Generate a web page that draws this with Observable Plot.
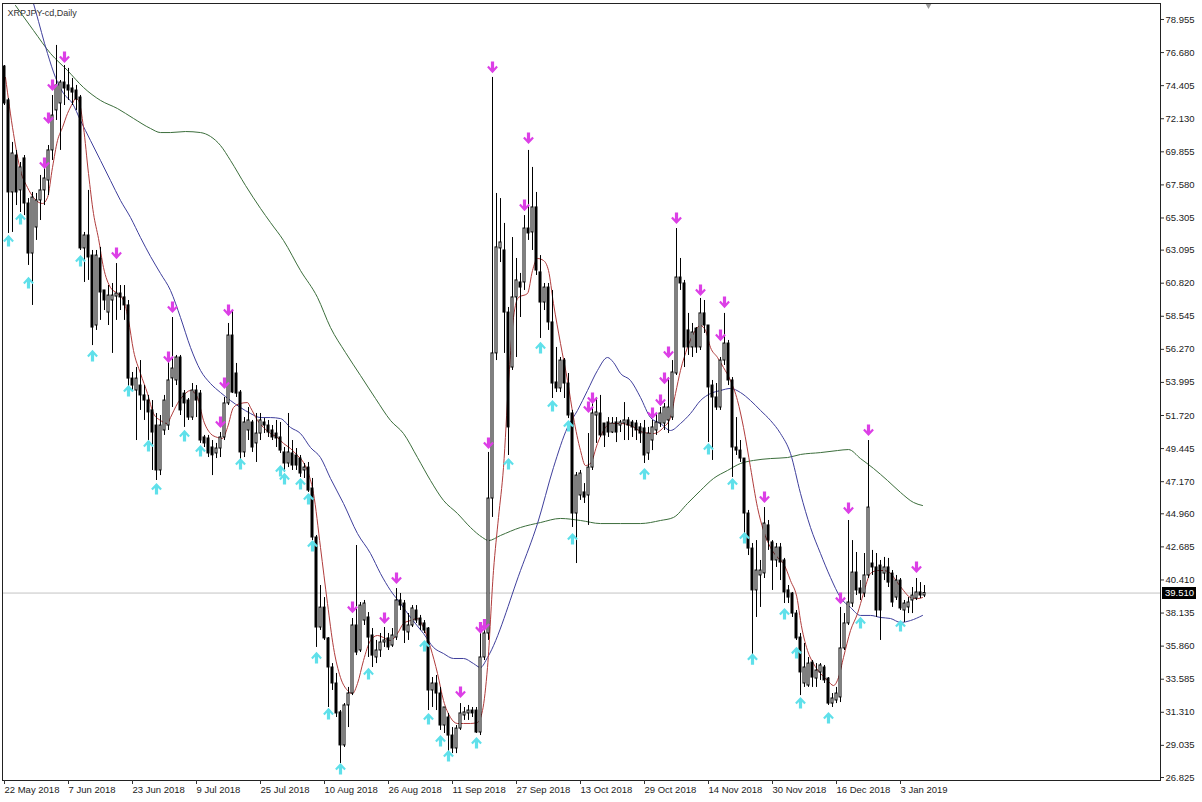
<!DOCTYPE html>
<html><head><meta charset="utf-8">
<script src="https://cdn.jsdelivr.net/npm/d3@7"></script>
<script src="https://cdn.jsdelivr.net/npm/@observablehq/plot@0.6"></script>
<style>
html,body{margin:0;padding:0;background:#fff;}
#chart{width:1202px;height:802px;overflow:hidden;}
</style></head><body><div id="chart"></div>
<script>
const title = "XRPJPY-cd,Daily";
const bid = 39.51;

const openP = [
75.72,73.39,67.06,69.60,67.20,69.40,66.30,62.86,64.65,66.51,
67.20,67.88,69.95,72.70,73.18,74.62,74.42,74.21,74.07,73.59,
63.21,64.10,62.72,57.91,62.52,60.32,58.80,59.63,59.90,60.11,
59.84,59.29,54.26,53.44,53.78,53.10,52.75,52.07,51.03,47.94,
50.69,51.03,54.27,54.13,55.71,53.23,52.75,51.58,53.44,53.23,
50.21,50.14,49.52,49.11,49.45,50.21,52.55,57.22,54.61,53.30,
49.18,50.69,51.24,49.80,50.48,51.24,51.03,50.69,50.48,50.21,
49.18,48.42,49.11,48.97,48.76,47.94,48.14,46.70,43.33,37.14,
38.51,36.39,34.39,33.29,31.30,29.03,31.78,32.60,37.28,35.56,
37.62,37.83,36.59,35.08,35.56,36.11,36.39,35.90,36.45,39.00,
38.79,36.80,37.28,38.31,37.76,37.42,37.07,32.81,33.29,32.60,
30.40,30.95,29.71,28.82,30.19,31.09,31.23,31.43,31.43,29.92,
35.08,36.73,46.01,55.99,63.21,63.07,58.80,55.02,59.84,60.87,
60.87,64.58,64.31,66.03,61.56,59.49,60.52,58.12,53.99,53.58,
55.50,53.92,51.86,44.98,46.22,46.43,46.22,48.14,51.72,51.86,
51.17,51.24,50.55,51.24,51.03,51.17,51.38,51.24,51.17,50.90,
50.83,49.11,50.00,50.69,51.17,51.17,51.38,51.58,54.61,61.21,
60.80,57.57,56.40,57.70,56.40,58.74,57.91,53.78,52.96,52.27,
55.50,56.67,54.13,49.52,49.31,48.76,44.98,42.57,39.69,40.72,
40.86,44.16,42.99,41.75,42.64,41.75,39.69,39.48,38.10,36.45,
33.29,33.15,34.73,33.63,34.05,34.39,33.63,31.91,32.12,32.33,
35.70,37.42,38.79,40.92,39.82,39.48,40.72,41.54,41.27,41.40,
40.85,41.27,40.85,39.20,40.37,38.31,38.52,39.00,39.13,39.55,
39.34];

const highP = [
75.79,73.52,70.50,69.95,69.12,69.60,66.64,67.06,66.99,68.23,
68.92,70.29,73.73,77.17,74.76,75.79,75.59,74.90,74.42,73.73,
64.31,67.20,63.07,63.07,63.28,60.32,60.66,60.80,62.17,60.66,
60.66,59.63,54.68,55.02,55.50,53.78,53.10,52.75,51.86,51.72,
53.10,55.50,58.46,55.85,55.85,53.44,52.89,53.92,53.78,53.44,
50.35,50.35,50.00,49.80,50.55,52.96,58.05,58.94,55.30,53.44,
51.58,52.27,51.38,51.86,51.86,51.51,51.38,51.03,51.38,51.24,
49.52,51.86,50.00,49.45,48.97,48.42,48.49,47.39,43.47,40.03,
39.20,36.45,34.66,33.98,31.43,31.91,33.02,37.76,42.78,38.86,
39.00,38.17,37.07,36.25,36.73,37.14,36.73,37.07,39.82,39.48,
39.00,38.10,38.65,38.65,37.97,37.62,37.14,33.70,33.84,33.02,
31.64,31.23,30.26,30.40,31.91,31.64,31.78,31.64,31.64,37.14,
37.42,49.18,74.97,66.99,66.64,64.93,59.15,63.96,62.52,61.49,
65.47,69.95,68.78,67.06,62.72,60.80,60.80,60.32,56.40,55.71,
55.64,54.61,52.07,47.80,47.94,47.04,50.48,53.23,52.96,53.10,
51.17,51.58,51.58,51.58,51.38,52.61,51.58,51.38,51.38,51.17,
51.38,50.90,51.38,51.86,52.27,52.55,54.33,55.50,64.58,62.52,
61.01,58.74,58.05,57.77,59.77,59.63,57.91,54.13,53.92,55.71,
58.74,56.88,54.33,51.58,50.00,48.76,45.19,42.92,43.12,41.75,
45.39,44.50,43.12,42.92,42.92,41.89,40.03,39.55,38.31,36.73,
36.04,35.08,34.87,34.66,34.66,34.53,33.70,32.60,33.02,38.52,
38.10,44.50,43.12,42.30,40.37,42.23,50.00,42.44,42.23,41.75,
41.96,41.89,41.06,40.72,40.51,39.00,39.20,39.89,40.51,40.23,
40.03];

const lowP = [
73.04,64.24,64.31,66.16,65.68,65.47,62.04,59.29,63.76,65.13,
66.16,66.85,69.26,72.01,69.95,73.04,73.39,73.04,72.70,63.07,
60.87,61.01,56.53,57.57,58.26,58.94,57.91,55.99,58.26,58.94,
58.26,53.10,53.44,50.00,52.07,51.38,50.00,47.94,47.25,47.59,
50.35,50.69,52.27,53.78,51.72,50.90,51.38,51.38,51.58,49.80,
49.52,48.83,47.59,48.76,48.83,50.00,52.41,53.23,52.96,48.49,
48.83,50.00,49.18,48.49,50.00,50.48,50.21,50.00,49.52,49.11,
47.80,48.14,47.94,47.94,47.46,47.39,46.43,43.12,35.77,36.94,
36.25,31.64,32.81,30.95,27.79,28.89,30.26,32.46,35.21,35.42,
37.28,35.08,34.39,34.66,35.08,35.77,35.56,35.77,36.25,38.31,
36.04,36.25,37.14,37.42,36.93,36.73,31.43,31.64,31.43,30.06,
29.85,28.47,28.47,28.47,30.06,30.75,30.75,30.95,29.85,29.71,
34.87,36.25,44.71,55.50,62.24,55.99,48.97,54.82,55.71,58.46,
60.32,63.76,63.07,61.35,57.02,58.94,57.57,52.89,53.30,53.30,
52.89,51.51,44.02,41.54,45.88,45.67,44.16,47.94,49.80,50.21,
49.52,50.21,50.48,49.86,50.55,50.00,50.00,50.21,50.00,49.80,
48.42,48.63,49.31,50.35,50.90,50.69,50.48,51.38,54.47,60.32,
55.02,55.85,55.71,55.99,56.19,57.36,49.86,48.63,52.07,52.07,
55.16,53.78,47.46,48.97,48.49,43.60,42.09,34.73,37.83,38.52,
40.51,42.44,39.69,41.27,40.37,38.79,38.79,37.83,36.25,32.46,
33.02,33.02,33.02,33.02,33.50,33.29,31.78,31.64,31.91,31.98,
35.56,37.28,38.52,39.34,39.00,39.20,40.51,40.72,37.83,36.25,
40.37,39.89,38.52,39.00,38.31,37.49,38.10,38.10,39.00,39.13,
39.20];

const closeP = [
73.18,67.06,69.74,67.06,68.78,66.30,62.86,66.71,66.51,67.20,
68.02,69.95,72.35,74.42,74.62,74.21,74.07,73.93,73.45,63.21,
64.10,62.59,57.77,62.72,60.18,59.63,59.97,59.97,60.11,59.84,
59.29,54.26,53.78,54.26,53.10,52.75,51.93,50.55,47.94,51.03,
52.75,54.13,54.95,55.71,52.07,52.55,51.58,53.44,52.75,50.00,
49.80,49.11,48.98,49.45,50.21,52.55,57.22,53.30,53.23,49.18,
51.24,51.38,49.52,50.48,51.38,51.03,50.55,50.21,50.14,49.31,
48.42,49.18,48.28,48.28,47.73,48.14,46.56,43.33,37.14,38.51,
36.39,34.39,33.29,31.23,29.03,31.78,32.60,37.28,35.42,38.65,
38.79,36.45,35.21,35.56,36.11,36.25,35.77,36.59,39.00,38.65,
36.93,37.28,38.45,37.62,37.28,36.93,32.81,33.29,32.60,30.40,
31.64,29.71,28.82,30.19,31.23,31.30,31.43,31.23,29.92,35.08,
36.73,46.01,55.99,63.28,63.62,58.80,50.90,59.84,61.01,60.52,
64.58,64.24,66.03,61.69,59.49,60.52,58.12,53.92,53.58,55.50,
53.92,51.72,44.98,47.59,47.73,46.08,48.14,51.86,51.93,50.35,
50.35,50.55,51.17,50.55,51.24,51.38,51.03,50.90,50.69,50.48,
48.97,50.48,50.90,51.24,51.86,52.27,52.27,54.68,61.21,60.80,
56.40,56.40,57.43,56.40,58.74,57.91,53.65,52.96,52.27,55.50,
56.67,54.13,49.52,49.31,48.76,44.98,42.57,39.69,41.06,41.06,
44.29,43.12,41.75,42.64,41.61,39.55,39.20,38.10,36.39,34.05,
34.39,34.66,33.70,34.18,34.53,33.50,31.91,32.26,32.60,35.70,
37.42,38.86,40.92,39.69,39.48,40.72,45.39,41.27,38.31,38.31,
41.27,40.23,38.86,40.37,38.45,38.79,38.86,39.34,39.55,39.34,
39.51];

// bar index of each date label
const dateTicks = [0,16,32,48,64,80,96,112,128,144,160,176,192,208,224];
const dateLabels = ["22 May 2018","7 Jun 2018","23 Jun 2018","9 Jul 2018","25 Jul 2018","10 Aug 2018","26 Aug 2018","11 Sep 2018","27 Sep 2018","13 Oct 2018","29 Oct 2018","14 Nov 2018","30 Nov 2018","16 Dec 2018","3 Jan 2019"];
const priceTicks = [78.955,76.680,74.405,72.130,69.855,67.580,65.305,63.095,60.820,58.545,56.270,53.995,51.720,49.445,47.170,44.960,42.685,40.410,38.135,35.860,33.585,31.310,29.035,26.825];

// moving averages: [bar index, price]
const maFast = [[0.25,74.97],[2.25,71.11],[4,68.57],[5.75,67.40],[7.25,66.71],[9.5,66.30],[10.75,66.71],[12,68.78],[13.25,70.63],[14.5,71.53],[15.75,72.49],[17,73.18],[17.75,73.52],[18.5,73.39],[19.75,71.53],[21,68.36],[22.25,65.61],[23.5,63.89],[24.75,61.90],[26.5,60.52],[28.25,60.11],[29.75,59.63],[31,58.26],[32.25,56.19],[34,54.61],[35.75,53.23],[37.25,51.86],[39,51.38],[40.75,51.17],[41.5,51.58],[43.25,52.55],[44.75,53.10],[46.5,53.44],[48.25,52.96],[49.75,51.38],[51.5,50.48],[53.25,50.21],[54.5,50.14],[55.75,50.90],[57.25,52.27],[59,52.55],[60.75,52.61],[61.5,52.27],[63.25,51.38],[64.75,50.90],[66.5,50.48],[68.25,50.21],[69.75,49.80],[71.5,49.45],[73.25,48.97],[74.75,48.49],[76,47.73],[77.25,46.36],[79,42.64],[80.75,38.79],[82.25,35.77],[84,33.70],[85.75,32.81],[87,32.60],[88.25,33.29],[89.75,34.87],[91.5,36.25],[93.25,36.59],[94.75,36.45],[96.5,36.25],[98.25,36.73],[99.75,37.42],[101.5,37.62],[103.25,37.76],[104.75,37.14],[106.5,35.77],[108.25,33.98],[109.75,32.12],[111.5,30.95],[113.25,30.54],[114.75,30.54],[116.5,30.54],[118.25,30.61],[119.5,31.43],[120.75,34.39],[122.25,41.06],[123.5,44.71],[124.75,48.15],[126,53.92],[127.25,58.46],[128.5,59.84],[130.75,60.11],[132,61.69],[133.25,62.52],[134.75,62.38],[136,61.69],[137.25,59.42],[139,56.67],[140.75,54.13],[142.25,51.58],[144,49.31],[145.25,48.28],[146.5,48.42],[148.25,49.80],[149.75,50.69],[151.5,51.17],[154,51.17],[156.5,51.03],[159.75,50.55],[162.25,50.48],[164.75,50.90],[166.5,51.58],[167.75,53.23],[169,54.82],[170.75,56.40],[172.25,57.36],[174,57.91],[175.25,57.57],[176.5,56.40],[178.25,55.71],[179.75,55.02],[181.5,54.13],[183.25,52.75],[184.75,50.90],[186.5,48.15],[188.25,45.39],[189.75,43.81],[191.5,42.64],[193.25,41.96],[194.75,41.54],[196.5,40.37],[198.25,39.00],[199,37.62],[200.75,35.56],[202.25,34.66],[204,33.98],[205.75,33.50],[207.25,33.15],[208.5,33.70],[209.75,35.08],[211.5,36.93],[213.25,38.10],[214.75,39.48],[216.5,40.86],[218.25,41.06],[219.75,41.06],[221.5,40.86],[223.25,40.23],[224.75,39.69],[226.5,39.20],[228.25,39.13],[229.5,39.20]];

const maMid = [[7.25,80.05],[7.75,79.57],[10.75,76.62],[12.75,74.97],[14.75,73.87],[17,73.18],[19,72.01],[21.5,70.63],[24,69.26],[26.5,67.88],[29,66.51],[31.5,65.34],[34,63.96],[36.5,62.66],[39,61.49],[41.5,60.32],[44,58.46],[46.5,56.40],[49,54.82],[51.5,53.92],[54,53.30],[56.5,52.75],[59,52.27],[61.5,51.86],[64,51.58],[66.5,51.58],[69,51.51],[71.5,50.90],[74,50.48],[76.5,49.52],[79,48.83],[81.5,47.39],[84.75,45.67],[88.25,43.60],[91.5,42.23],[94,40.85],[96.5,39.69],[99,38.79],[101.5,37.83],[104.75,36.73],[107.25,35.77],[109.75,35.35],[112.25,35.01],[114.75,35.01],[117.25,34.66],[119,34.39],[120.75,35.08],[129,41.06],[133.25,44.29],[137.25,48.15],[140.75,50.90],[143.25,52.07],[145.75,53.44],[148.25,54.82],[150.75,55.71],[152.25,55.37],[154,54.61],[156.5,54.13],[159,52.96],[161.5,51.58],[164,51.17],[166.5,50.69],[169,51.17],[171.5,51.86],[174,52.75],[176.5,53.23],[179,53.44],[181.5,53.58],[184,53.30],[186.5,52.75],[189,52.07],[191.5,51.38],[194,50.48],[196.5,49.11],[199,46.36],[201.5,44.02],[204,42.23],[206.5,40.58],[209,39.20],[211.5,38.52],[214,37.97],[216.5,37.97],[219,37.83],[221.5,37.76],[224,37.49],[226.5,37.62],[229.5,37.97]];

const maSlow = [[2.75,79.92],[7.25,78.20],[11.5,76.62],[15.75,75.45],[19.75,74.28],[24,73.39],[28.25,72.83],[32.25,72.15],[36.5,71.46],[39,71.18],[41.5,71.18],[45.25,71.25],[49,71.18],[51.5,70.91],[54,70.29],[56.5,69.26],[60.25,67.54],[64,65.96],[66.5,64.99],[69.75,63.76],[74,61.69],[78.25,59.84],[81.5,57.77],[85.25,56.05],[89,54.47],[92.75,52.89],[96.5,51.38],[99.75,50.48],[103.25,48.83],[106.5,47.25],[109.75,45.88],[113.25,44.98],[116.5,44.02],[119.5,43.33],[121,43.12],[124,43.47],[129,44.02],[134,44.36],[139,44.64],[144,44.50],[149,44.29],[154,44.29],[159,44.29],[164,44.50],[167.25,44.71],[170.75,45.67],[174,46.56],[177.25,47.39],[180.75,47.94],[184,48.42],[187.25,48.63],[191.5,48.76],[195.75,48.83],[199,49.04],[204,49.17],[208.25,49.31],[211,49.38],[214,48.76],[217.25,48.08],[220.75,47.25],[224,46.43],[227.25,45.74],[229.5,45.53]];

// signal arrows: [bar index, price]
const downArrows = [[10,69.05],[11,72.15],[12,74.42],[15,76.34],[28,62.86],[41,55.71],[42,59.15],[54,51.24],[55,53.92],[56,58.94],[87,38.51],[95,37.76],[98,40.51],[114,32.67],[119,37.10],[120,37.31],[121,49.80],[122,75.65],[130,66.16],[131,70.77],[146,52.27],[147,52.89],[162,51.86],[164,52.75],[165,54.26],[166,56.05],[168,65.27],[174,60.32],[179,57.22],[180,59.49],[190,46.08],[209,39.13],[211,45.32],[216,50.69],[228,41.27]];
const upArrows = [[1,63.76],[4,65.27],[6,60.87],[19,62.38],[22,55.85],[31,53.44],[36,49.66],[38,46.70],[45,50.35],[49,49.31],[59,48.42],[69,47.94],[70,47.39],[74,47.04],[76,46.01],[77,42.78],[78,35.08],[81,31.23],[84,27.44],[91,33.98],[105,35.90],[106,30.88],[109,29.37],[111,28.34],[118,29.23],[126,48.42],[134,56.40],[137,52.41],[141,51.03],[142,43.26],[160,47.73],[176,49.45],[182,47.04],[185,43.33],[187,34.99],[195,38.10],[198,35.43],[199,31.98],[206,30.95],[214,37.49],[224,37.28]];

const candles = openP.map((o, i) => ({i, o, h: highP[i], l: lowP[i], c: closeP[i]}));
const N = candles.length;

const arrowDown = {
  draw(ctx) {
    const p = [[-1.6,-6],[1.6,-6],[1.6,0.6],[3.8,-1.8],[5.4,-0.2],[0,5.6],[-5.4,-0.2],[-3.8,-1.8],[-1.6,0.6]];
    ctx.moveTo(p[0][0], p[0][1]);
    for (let k = 1; k < p.length; k++) ctx.lineTo(p[k][0], p[k][1]);
    ctx.closePath();
  }
};
const arrowUp = {
  draw(ctx) {
    const p = [[-1.6,6],[1.6,6],[1.6,-0.6],[3.8,1.8],[5.4,0.2],[0,-5.6],[-5.4,0.2],[-3.8,1.8],[-1.6,-0.6]];
    ctx.moveTo(p[0][0], p[0][1]);
    for (let k = 1; k < p.length; k++) ctx.lineTo(p[k][0], p[k][1]);
    ctx.closePath();
  }
};

const FONT = "Tahoma, 'Liberation Sans', Arial, sans-serif";

const bidLabel = (index, scales, values, dims) => {
  const y = Math.round(scales.y(bid));
  const x0 = dims.width - dims.marginRight + 2;
  const g = d3.create("svg:g");
  g.append("rect").attr("x", x0).attr("y", y - 6).attr("width", 34).attr("height", 12).attr("fill", "#000");
  g.append("text").attr("x", x0 + 3).attr("y", y).attr("dy", "0.36em").attr("text-anchor", "start")
    .attr("fill", "#fff").attr("font-size", "9.5px").attr("font-family", FONT).text(bid.toFixed(3));
  return g.node();
};

const chart = Plot.plot({
  width: 1202,
  height: 802,
  marginLeft: 2,
  marginTop: 3,
  marginRight: 42,
  marginBottom: 22,
  style: {fontFamily: FONT, fontSize: "9.5px", color: "#111", background: "#fff", overflow: "visible"},
  x: {type: "linear", domain: [-0.5, 289], axis: null},
  y: {type: "linear", domain: [26.619, 80.055], axis: null},
  marks: [
    Plot.ruleY([bid], {stroke: "#c4c4c4", strokeWidth: 1}),
    Plot.line(maSlow, {x: d => d[0], y: d => d[1], stroke: "#3c6e3c", strokeWidth: 1, curve: "monotone-x", clip: true}),
    Plot.line(maMid, {x: d => d[0], y: d => d[1], stroke: "#3f3f9c", strokeWidth: 1, curve: "monotone-x", clip: true}),
    Plot.line(maFast, {x: d => d[0], y: d => d[1], stroke: "#b03c3c", strokeWidth: 1, curve: "monotone-x", clip: true}),
    Plot.ruleX(candles, {x: "i", y1: "l", y2: "h", stroke: "#000", strokeWidth: 1}),
    Plot.rect(candles, {
      x1: d => d.i - 0.25, x2: d => d.i + 0.25, y1: "o", y2: "c",
      fill: d => d.c >= d.o ? "#fff" : "#000", stroke: "#000", strokeWidth: 1
    }),
    Plot.dot(downArrows, {x: d => d[0], y: d => d[1], symbol: arrowDown, r: 5, fill: "#dc3fe6", stroke: "none"}),
    Plot.dot(upArrows, {x: d => d[0], y: d => d[1], symbol: arrowUp, r: 5, fill: "#5fe0ea", stroke: "none"}),
    Plot.dot([N], {x: d => d, frameAnchor: "top", symbol: "triangle", rotate: 180, r: 2.2, dy: 2, fill: "#9a9a9a", stroke: "none"}),
    Plot.frame({stroke: "#222", strokeWidth: 1}),
    Plot.text([title], {frameAnchor: "top-left", dx: 5, dy: 6, lineAnchor: "top", textAnchor: "start", fontSize: 9, fill: "#333"}),
    Plot.axisY(priceTicks, {anchor: "right", tickSize: 3, tickPadding: 2, tickFormat: d => d.toFixed(3), label: null, stroke: "#333", fill: "#222"}),
    Plot.axisX(dateTicks, {anchor: "bottom", tickSize: 4, tickPadding: 2, tickFormat: d => dateLabels[dateTicks.indexOf(d)], textAnchor: "start", dx: 0, label: null, stroke: "#333", fill: "#222"}),
    bidLabel
  ]
});
document.getElementById("chart").appendChild(chart);
</script>
</body></html>
